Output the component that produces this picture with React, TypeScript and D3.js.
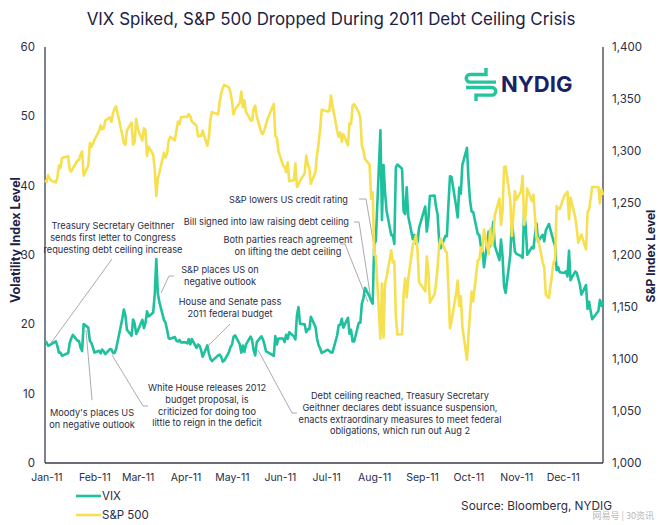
import React from 'react';
import * as d3 from 'd3';

// ---------- DATA ----------
const monthLabels = ['Jan-11','Feb-11','Mar-11','Apr-11','May-11','Jun-11','Jul-11','Aug-11','Sep-11','Oct-11','Nov-11','Dec-11'];
const leftTicks = [0, 10, 20, 30, 40, 50, 60];
const rightTicks = [1000, 1050, 1100, 1150, 1200, 1250, 1300, 1350, 1400];

// trading days per month (day of month), 2011
const tradingDays: number[][] = [
  [3,4,5,6,7,10,11,12,13,14,18,19,20,21,24,25,26,27,28,31],
  [1,2,3,4,7,8,9,10,11,14,15,16,17,18,22,23,24,25,28],
  [1,2,3,4,7,8,9,10,11,14,15,16,17,18,21,22,23,24,25,28,29,30,31],
  [1,4,5,6,7,8,11,12,13,14,15,18,19,20,21,25,26,27,28,29],
  [2,3,4,5,6,9,10,11,12,13,16,17,18,19,20,23,24,25,26,27,31],
  [1,2,3,6,7,8,9,10,13,14,15,16,17,20,21,22,23,24,27,28,29,30],
  [1,5,6,7,8,11,12,13,14,15,18,19,20,21,22,25,26,27,28,29],
  [1,2,3,4,5,8,9,10,11,12,15,16,17,18,19,22,23,24,25,26,29,30,31],
  [1,2,6,7,8,9,12,13,14,15,16,19,20,21,22,23,26,27,28,29,30],
  [3,4,5,6,7,10,11,12,13,14,17,18,19,20,21,24,25,26,27,28,31],
  [1,2,3,4,7,8,9,10,11,14,15,16,17,18,21,22,23,25,28,29,30],
  [1,2,5,6,7,8,9,12,13,14,15,16,19,20,21,22,23,27,28,29,30],
];

const vixByMonth: number[][] = [
  [17.61,17.38,16.91,17.02,17.14,17.54,16.89,15.91,15.94,15.46,15.87,17.31,17.99,18.47,17.65,17.59,16.64,16.15,20.04,19.53],
  [17.63,17.30,16.69,15.93,16.19,15.81,16.37,16.09,15.69,16.43,16.37,15.85,15.88,16.43,20.80,22.13,21.32,19.22,18.35],
  [20.70,20.08,18.60,19.06,20.66,19.46,20.22,21.88,21.13,21.72,24.32,29.40,24.44,23.20,20.61,20.21,19.17,18.00,17.91,18.16,17.62,17.53,17.74],
  [17.40,17.40,17.25,17.87,17.11,17.87,16.59,17.09,16.92,16.27,15.32,16.96,15.83,15.07,14.69,15.52,15.62,15.31,14.62,14.75],
  [15.99,16.70,17.08,18.20,18.40,17.16,15.91,16.95,16.03,17.07,18.24,17.71,16.23,15.52,17.43,18.27,17.82,17.07,16.09,15.98,15.45],
  [18.30,17.09,17.95,17.95,17.44,18.49,17.90,18.86,18.26,17.81,21.32,22.50,20.08,19.99,18.86,19.29,19.29,21.10,19.61,17.93,16.98,16.52],
  [15.87,16.34,16.15,15.95,15.95,18.39,19.87,19.91,20.80,19.53,20.95,18.65,19.21,17.52,17.52,20.23,20.23,22.98,23.74,25.25],
  [23.99,23.38,23.00,31.66,32.00,48.00,35.06,42.99,39.00,36.36,32.85,32.88,31.58,42.67,43.05,42.44,36.27,35.90,39.76,35.59,32.28,32.89,31.62],
  [31.82,33.92,37.00,33.38,35.06,38.52,38.59,36.91,35.83,31.97,30.98,32.73,32.70,37.32,41.35,41.25,37.00,35.41,39.73,38.84,42.96],
  [45.45,40.82,37.81,36.27,36.20,33.04,32.86,31.26,30.70,28.24,33.39,31.26,32.73,34.77,31.32,29.26,32.22,29.86,25.46,24.53,29.96],
  [34.77,32.74,30.50,30.16,29.85,29.59,36.16,34.13,30.04,31.13,30.96,32.91,34.51,32.00,32.91,31.97,33.55,34.47,32.00,31.33,27.80],
  [28.23,27.52,27.41,27.65,26.90,30.59,26.38,27.62,27.41,26.58,25.78,24.29,25.67,22.22,23.25,21.94,20.73,21.91,23.52,22.65,23.40],
];

const spxByMonth: number[][] = [
  [1271.87,1270.20,1276.56,1273.85,1271.50,1269.75,1274.48,1285.96,1283.76,1293.24,1295.02,1281.92,1280.26,1283.35,1290.84,1291.18,1296.63,1299.54,1276.34,1286.12],
  [1307.59,1304.03,1307.10,1310.87,1319.05,1324.57,1320.88,1321.87,1329.15,1332.32,1328.01,1336.32,1340.43,1343.01,1315.44,1307.40,1306.10,1319.88,1327.22],
  [1306.33,1308.44,1330.97,1321.15,1310.13,1321.82,1320.02,1295.11,1304.28,1296.39,1281.87,1256.88,1273.72,1279.21,1298.38,1293.77,1297.54,1309.66,1313.80,1310.19,1319.44,1328.26,1325.83],
  [1332.41,1332.87,1332.63,1335.54,1333.51,1328.17,1324.46,1314.16,1314.41,1314.52,1319.68,1305.14,1312.62,1330.36,1337.38,1335.25,1347.24,1355.66,1360.48,1363.61],
  [1361.22,1356.62,1347.32,1335.10,1340.20,1346.29,1357.16,1342.08,1348.65,1337.77,1329.47,1328.98,1340.68,1343.60,1333.27,1317.37,1316.28,1320.47,1325.69,1331.10,1345.20],
  [1314.55,1312.94,1300.16,1286.17,1284.94,1279.56,1289.00,1270.98,1271.83,1287.87,1265.42,1267.64,1271.50,1278.36,1295.52,1287.14,1283.50,1268.45,1280.10,1296.67,1307.41,1320.64],
  [1339.67,1337.88,1339.22,1353.22,1343.80,1319.49,1313.64,1317.72,1308.87,1316.14,1305.44,1326.73,1325.84,1343.80,1345.02,1337.43,1331.94,1304.89,1300.67,1292.28],
  [1286.94,1254.05,1260.34,1200.07,1199.38,1119.46,1172.53,1120.76,1172.64,1178.81,1204.49,1192.76,1193.89,1140.65,1123.53,1123.82,1162.35,1177.60,1159.27,1176.80,1210.08,1212.92,1218.89],
  [1204.42,1173.97,1165.24,1198.62,1185.90,1154.23,1162.27,1172.87,1188.68,1209.11,1216.01,1204.09,1202.09,1166.76,1129.56,1136.43,1162.95,1175.38,1151.06,1160.40,1131.42],
  [1099.23,1123.95,1144.03,1164.97,1155.46,1194.89,1195.54,1207.25,1203.66,1224.58,1200.86,1225.38,1209.88,1215.39,1238.25,1254.19,1229.05,1242.00,1284.59,1285.09,1253.30],
  [1218.28,1237.90,1261.15,1253.23,1261.12,1275.92,1229.10,1239.70,1263.85,1251.78,1257.81,1236.91,1216.13,1215.65,1192.98,1188.04,1161.79,1158.67,1192.55,1195.19,1246.96],
  [1244.58,1244.28,1257.08,1258.47,1261.01,1234.35,1255.19,1236.47,1225.73,1211.82,1215.75,1219.66,1205.35,1241.30,1243.72,1254.00,1265.33,1265.43,1249.64,1263.02,1257.60],
];

type Note = { lines: string[]; x: number; y: number; anchor: string; leader: [number, number][] };
const notes: Note[] = [
  { lines: ['Treasury Secretary Geithner', 'sends first letter to Congress', 'requesting debt ceiling increase'], x: 113, y: 229, anchor: 'middle', leader: [[112, 259], [51, 343]] },
  { lines: ["Moody's places US", 'on negative outlook'], x: 92, y: 416, anchor: 'middle', leader: [[92, 400], [86, 330]] },
  { lines: ['White House releases 2012', 'budget proposal, is', 'criticized for doing too', 'little to reign in the deficit'], x: 207, y: 391, anchor: 'middle', leader: [[148, 406], [143, 406], [112, 355]] },
  { lines: ['S&P places US on', 'negative outlook'], x: 220, y: 273, anchor: 'middle', leader: [[174, 276], [169, 276], [161, 293]] },
  { lines: ['House and Senate pass', '2011 federal budget'], x: 230, y: 305, anchor: 'middle', leader: [[230, 324], [207, 347]] },
  { lines: ['Debt ceiling reached, Treasury Secretary', 'Geithner declares debt issuance suspension,', 'enacts extraordinary measures to meet federal', 'obligations, which run out Aug 2'], x: 400, y: 399, anchor: 'middle', leader: [[297, 413], [292, 413], [258, 350]] },
  { lines: ['S&P lowers US credit rating'], x: 348, y: 203, anchor: 'end', leader: [[359, 199], [366, 199], [375, 252]] },
  { lines: ['Bill signed into law raising debt ceiling'], x: 349, y: 225, anchor: 'end', leader: [[354, 222], [359, 222], [371, 300]] },
  { lines: ['Both parties reach agreement', 'on lifting the debt ceiling'], x: 288, y: 243, anchor: 'middle', leader: [[340, 244], [345, 244], [368, 302]] },
];

// ---------- LAYOUT ----------
const W = 660, H = 525;
const L = 45, R = 603, T = 47, B = 463;
const TEAL = '#1fc09e';
const YELLOW = '#f7e04f';
const NAVY = '#1c2146';
const TEXT = '#2a2e45';
const FONT = 'Inter, "Noto Sans", sans-serif';

export default function App() {
  const parse = (m: number, d: number) => new Date(2011, m, d);
  const dates: Date[] = tradingDays.flatMap((days, m) => days.map((d) => parse(m, d)));
  const vix = vixByMonth.flat();
  const spx = spxByMonth.flat();
  const n = Math.min(dates.length, vix.length, spx.length);
  const rows = d3.range(n).map((i) => ({ date: dates[i], vix: vix[i], spx: spx[i] }));

  const x = d3.scaleTime().domain([dates[0], dates[dates.length - 1]]).range([L, R]);
  const yL = d3.scaleLinear().domain([0, 60]).range([B, T]);
  const yR = d3.scaleLinear().domain([1000, 1400]).range([B, T]);

  const vixLine = d3.line<any>().x((d) => x(d.date)).y((d) => yL(d.vix)).curve(d3.curveLinear);
  const spxLine = d3.line<any>().x((d) => x(d.date)).y((d) => yR(d.spx)).curve(d3.curveLinear);
  const fmt = d3.format(',');
  const monthStarts = d3.range(12).map((m) => new Date(2011, m, 1));

  return (
    <div style={{ position: 'absolute', left: 0, top: 0 }}>
      <svg width={W} height={H} style={{ display: 'block', background: '#fff' }} fontFamily={FONT}>
        <rect width={W} height={H} fill="#fff" />
        <text x={331} y={25} textAnchor="middle" fontSize={16.9} fill={NAVY}>
          VIX Spiked, S&amp;P 500 Dropped During 2011 Debt Ceiling Crisis
        </text>

        {/* NYDIG logo */}
        <g fill="none" stroke="#27c2a0" strokeWidth={3.4} strokeLinecap="butt">
          <path d="M486 68 V74.5 H470 A3.8 3.8 0 0 0 470 82.1 H496" />
          <path d="M466 87.5 H492 A3.8 3.8 0 0 1 492 95.1 H476 V101" />
        </g>
        <text x={501} y={92} fontSize={22} fontWeight={700} fill="#1a2266">NYDIG</text>

        {/* axes lines */}
        <g stroke="#3a3d4f" strokeWidth={1.3} fill="none">
          <line x1={L} y1={T} x2={L} y2={B} />
          <line x1={L} y1={B} x2={R} y2={B} />
          <line x1={R} y1={T} x2={R} y2={B} />
        </g>

        {leftTicks.map((t) => (
          <text key={'l' + t} x={35} y={yL(t) + 4} textAnchor="end" fontSize={11.5} fill={TEXT}>{t}</text>
        ))}
        {rightTicks.map((t) => (
          <text key={'r' + t} x={612} y={yR(t) + 4} textAnchor="start" fontSize={11.5} fill={TEXT}>{fmt(t)}</text>
        ))}
        {monthStarts.map((d, i) => (
          <text key={'m' + i} x={x(d) + 5} y={481} textAnchor="middle" fontSize={10.5} fill={TEXT}>{monthLabels[i]}</text>
        ))}

        <text transform={`translate(15,240) rotate(-90)`} textAnchor="middle" dominantBaseline="central" fontSize={12.5} fontWeight={700} fill={NAVY}>Volatility Index Level</text>
        <text transform={`translate(650,256) rotate(-90)`} textAnchor="middle" dominantBaseline="central" fontSize={12} fontWeight={700} fill={NAVY}>S&amp;P Index Level</text>

        {notes.map((nt, i) => (
          <g key={'n' + i}>
            <polyline points={nt.leader.map((p) => p.join(',')).join(' ')} fill="none" stroke="#a0a0a8" strokeWidth={0.9} />
            <text x={nt.x} y={nt.y} textAnchor={nt.anchor} fontSize={9.2} fill={TEXT}>
              {nt.lines.map((ln, j) => (
                <tspan key={j} x={nt.x} dy={j === 0 ? 0 : 11.8}>{ln}</tspan>
              ))}
            </text>
          </g>
        ))}

        <path d={vixLine(rows) || ''} fill="none" stroke={TEAL} strokeWidth={2.6} strokeLinejoin="round" />
        <path d={spxLine(rows) || ''} fill="none" stroke={YELLOW} strokeWidth={2.6} strokeLinejoin="round" />

        <line x1={76} y1={496} x2={101} y2={496} stroke={TEAL} strokeWidth={2.6} />
        <text x={102} y={500} fontSize={11.5} fill={TEXT}>VIX</text>
        <line x1={76} y1={515} x2={101} y2={515} stroke={YELLOW} strokeWidth={2.6} />
        <text x={102} y={519} fontSize={11.5} fill={TEXT}>S&amp;P 500</text>

        <text x={612} y={510} textAnchor="end" fontSize={11.8} fill={TEXT}>Source: Bloomberg, NYDIG</text>
        <text x={654} y={519} textAnchor="end" fontSize={9} fill="#b8b8b8" fontFamily={'"Noto Sans CJK SC", sans-serif'}>网易号 | 30资讯</text>
      </svg>
    </div>
  );
}
